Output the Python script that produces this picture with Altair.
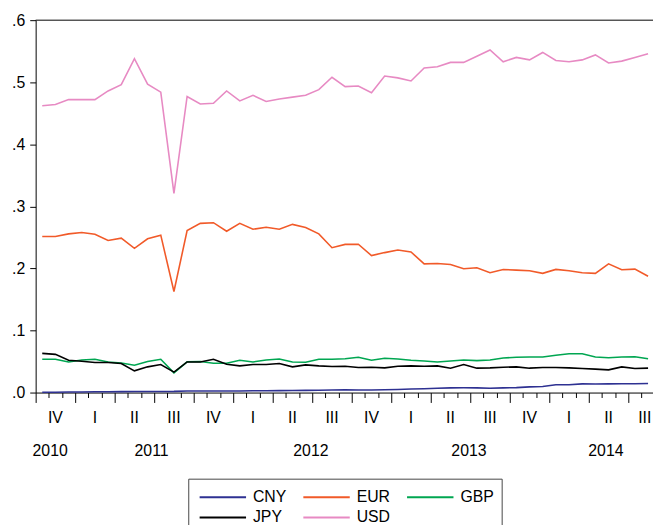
import altair as alt
import pandas as pd

series_names = ["CNY", "EUR", "GBP", "JPY", "USD"]
series_colors = ["#2e3192", "#f15a29", "#00a651", "#000000", "#e78ac3"]

# monthly observations, Oct 2010 .. Aug 2014
cny = [0.0005, 0.0006, 0.0008, 0.0010, 0.0012, 0.0014, 0.0015, 0.0016, 0.0017, 0.0018,
       0.0019, 0.0025, 0.0024, 0.0024, 0.0025, 0.0026, 0.0028, 0.0029, 0.0031, 0.0033,
       0.0035, 0.0037, 0.0042, 0.0045, 0.0040, 0.0042, 0.0046, 0.0050, 0.0057, 0.0062,
       0.0068, 0.0075, 0.0077, 0.0076, 0.0070, 0.0075, 0.0080, 0.0092, 0.0098, 0.0125,
       0.0127, 0.0140, 0.0137, 0.0140, 0.0141, 0.0143, 0.0145]
eur = [0.2515, 0.2515, 0.2557, 0.2578, 0.2551, 0.2451, 0.2488, 0.2324, 0.2478, 0.2536,
       0.1628, 0.2610, 0.2726, 0.2737, 0.2599, 0.2726, 0.2631, 0.2663, 0.2631, 0.2710,
       0.2658, 0.2557, 0.2334, 0.2387, 0.2390, 0.2207, 0.2255, 0.2297, 0.2265, 0.2074,
       0.2079, 0.2064, 0.1994, 0.2010, 0.1931, 0.1984, 0.1973, 0.1962, 0.1921, 0.1984,
       0.1962, 0.1931, 0.1921, 0.2074, 0.1978, 0.1989, 0.1873]
gbp = [0.0536, 0.0536, 0.0493, 0.0525, 0.0536, 0.0493, 0.0477, 0.0440, 0.0499, 0.0536,
       0.0318, 0.0496, 0.0499, 0.0472, 0.0472, 0.0520, 0.0493, 0.0525, 0.0541, 0.0493,
       0.0488, 0.0536, 0.0536, 0.0546, 0.0568, 0.0520, 0.0552, 0.0541, 0.0520, 0.0509,
       0.0493, 0.0509, 0.0525, 0.0515, 0.0525, 0.0557, 0.0568, 0.0573, 0.0573, 0.0600,
       0.0626, 0.0626, 0.0573, 0.0562, 0.0573, 0.0578, 0.0546]
jpy = [0.0631, 0.0615, 0.0520, 0.0504, 0.0483, 0.0483, 0.0467, 0.0350, 0.0414, 0.0451,
       0.0329, 0.0493, 0.0493, 0.0536, 0.0456, 0.0430, 0.0451, 0.0451, 0.0467, 0.0414,
       0.0446, 0.0430, 0.0420, 0.0424, 0.0403, 0.0408, 0.0398, 0.0424, 0.0430, 0.0424,
       0.0430, 0.0393, 0.0451, 0.0393, 0.0398, 0.0408, 0.0414, 0.0393, 0.0403, 0.0403,
       0.0398, 0.0387, 0.0377, 0.0366, 0.0414, 0.0387, 0.0393]
usd = [0.462, 0.464, 0.472, 0.472, 0.472, 0.486, 0.496, 0.538, 0.497, 0.484,
       0.321, 0.477, 0.465, 0.466, 0.486, 0.470, 0.479, 0.469, 0.473, 0.476,
       0.479, 0.488, 0.508, 0.493, 0.494, 0.483, 0.510, 0.507, 0.502, 0.523,
       0.525, 0.532, 0.532, 0.542, 0.552, 0.533, 0.540, 0.536, 0.548, 0.535,
       0.533, 0.536, 0.544, 0.531, 0.534, 0.540, 0.546]

quarter_labels = ["IV", "I", "II", "III", "IV", "I", "II", "III",
                  "IV", "I", "II", "III", "IV", "I", "II", "III"]
quarter_pos = [1.5, 4.5, 7.5, 10.5, 13.5, 16.5, 19.5, 22.5,
               25.5, 28.5, 31.5, 34.5, 37.5, 40.5, 43.5, 46.25]
year_labels = ["2010", "2011", "2012", "2013", "2014"]
year_pos = [1.1, 8.8, 20.9, 32.9, 43.3]

y_ticks = [0.0, 0.1, 0.2, 0.3, 0.4, 0.5, 0.6]

rows = []
for name, vals in zip(series_names, [cny, eur, gbp, jpy, usd]):
    for k, v in enumerate(vals):
        rows.append({"series": name, "t": k + 0.5, "value": v})
df = pd.DataFrame(rows)

FONT = "Liberation Sans"
W, H = 625, 377

xscale = alt.Scale(domain=[0, 46.875], nice=False, zero=False)
yscale = alt.Scale(domain=[0, 0.6], nice=False, zero=False)

xaxis = alt.Axis(values=list(range(47)), labels=False, title=None, grid=False,
                 domain=True, ticks=True,
                 tickSize={"condition": {"test": "datum.value % 3 === 0", "value": 10}, "value": 5})
yaxis = alt.Axis(values=y_ticks, title=None, grid=False, tickSize=6, labelPadding=5,
                 labelFontSize=16, labelExpr="slice(format(datum.value, '.1f'), 1)")

# wide horizontal stroke as legend symbol (47 px long at size 256)
legend_symbol = "M-2.9375,0H2.9375"

lines = alt.Chart(df).mark_line(strokeWidth=1.6).encode(
    x=alt.X("t:Q", scale=xscale, axis=xaxis),
    y=alt.Y("value:Q", scale=yscale, axis=yaxis),
    color=alt.Color("series:N", sort=series_names,
                    scale=alt.Scale(domain=series_names, range=series_colors),
                    legend=alt.Legend(orient="none", legendX=155, legendY=468, columns=3,
                                      direction="horizontal",
                                      symbolType=legend_symbol, symbolSize=256,
                                      symbolStrokeWidth=2, labelFontSize=16, labelFont=FONT,
                                      labelColor="black", labelOffset=21.5, columnPadding=12,
                                      rowPadding=3.5, padding=6, symbolOffset=19.5,
                                      title=None)),
)

# legend frame (its bottom edge lies below the visible page, as in the original)
legend_box = alt.Chart(pd.DataFrame({"a": [0]})).mark_rect(
    fill=None, stroke="#444444", strokeWidth=1
).encode(
    x=alt.value(155), x2=alt.value(472.3), y=alt.value(464.7), y2=alt.value(530)
)

qdf = pd.DataFrame({"pos": quarter_pos, "label": quarter_labels})
qtext = alt.Chart(qdf).mark_text(fontSize=16, font=FONT, color="black",
                                 align="center", baseline="middle").encode(
    x=alt.X("pos:Q", scale=xscale, axis=xaxis),
    y=alt.value(H + 26.3),
    text="label:N",
)

ydf = pd.DataFrame({"pos": year_pos, "label": year_labels})
ytext = alt.Chart(ydf).mark_text(fontSize=16, font=FONT, color="black",
                                 align="center", baseline="middle").encode(
    x=alt.X("pos:Q", scale=xscale, axis=xaxis),
    y=alt.value(H + 58.8),
    text="label:N",
)

top_border = alt.Chart(pd.DataFrame({"a": [0]})).mark_rule(color="black", strokeWidth=1).encode(
    x=alt.value(0), x2=alt.value(W), y=alt.value(0)
)

chart = alt.layer(top_border, legend_box, lines, qtext, ytext).properties(
    width=W, height=H,
    padding={"left": 28, "top": 9, "right": 0, "bottom": 150},
    autosize=alt.AutoSizeParams(type="none"),
).configure_view(stroke=None).configure_axis(
    domainColor="black", tickColor="black", labelColor="black", labelFont=FONT,
    domainWidth=1, tickWidth=1,
)

chart.save("out.html", embed_options={"renderer": "svg", "actions": False})
